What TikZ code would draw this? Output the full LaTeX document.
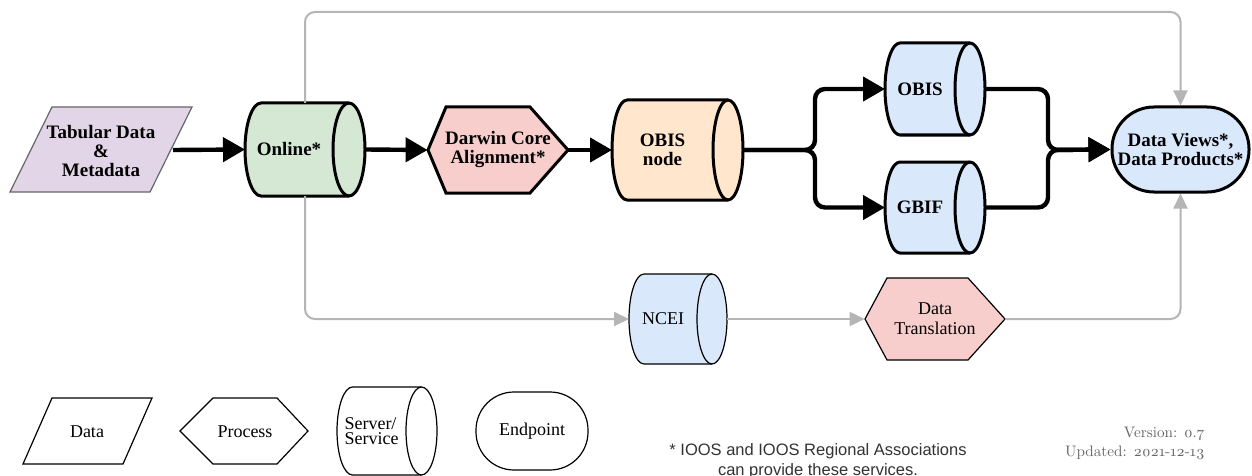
\documentclass[tikz,border=0pt]{standalone}
\usepackage{fontspec}
\setmainfont{Liberation Serif}
\newfontfamily\sansfn{Liberation Sans}
\newfontfamily\verfont[Numbers=OldStyle]{lmroman10-regular.otf}
\usetikzlibrary{arrows.meta}
\definecolor{cgreen}{HTML}{D5E8D4}
\definecolor{cblue}{HTML}{DAE8FC}
\definecolor{cpink}{HTML}{F8CECC}
\definecolor{corange}{HTML}{FFE6CC}
\definecolor{clav}{HTML}{E1D5E7}
\definecolor{lgray}{HTML}{B5B5B5}
\definecolor{fgray}{HTML}{333333}
\definecolor{vgray}{HTML}{666666}
\newcommand{\cyl}[9]{%
  \pgfmathsetmacro{\cylhh}{(#5-#4)*0.25}%
  \pgfmathsetmacro{\cylrx}{#6*0.5}%
  \node[inner sep=0pt, outer sep=0pt, minimum width={(#3-#2)*0.5pt}, minimum height={(#5-#4)*0.5pt}] (#1) at ({(#2+#3)/2},{(#4+#5)/2}) {};
  \draw[#7] ([xshift=\cylrx pt]#1.north west) -- ([xshift=-\cylrx pt]#1.north east)
    arc[start angle=90, end angle=-90, x radius=\cylrx pt, y radius=\cylhh pt]
    -- ([xshift=\cylrx pt]#1.south west)
    arc[start angle=270, end angle=90, x radius=\cylrx pt, y radius=\cylhh pt] -- cycle;
  \draw[#7, fill=none] ([xshift=-\cylrx pt]#1.north east)
    arc[start angle=90, end angle=270, x radius=\cylrx pt, y radius=\cylhh pt];
  \node[#8] (#1-t) at ({(#2+#3)/2-#6},{(#4+#5)/2}) {#9};
}
\tikzset{
  bigline/.style={line width=2.2pt, -{Triangle[length=11pt,width=12pt]}, rounded corners=5pt},
  grayline/.style={draw=lgray, line width=1pt, -{Triangle[length=7.5pt,width=7pt]}, rounded corners=5pt},
  thickb/.style={draw=black, line width=1.5pt},
  thinb/.style={draw=black, line width=0.6pt},
  maintxt/.style={font=\bfseries\fontsize{9.5}{9.5}\selectfont, align=center, inner sep=0pt},
  midtxt/.style={font=\fontsize{9}{10}\selectfont, align=center, inner sep=0pt},
  legtxt/.style={font=\fontsize{9}{9}\selectfont, align=center, inner sep=0pt},
  bbox/.style={inner sep=0pt, outer sep=0pt}
}
\begin{document}
\begin{tikzpicture}[x=0.5pt,y=-0.5pt]
\useasboundingbox (0,0) rectangle (1252,476);
\fill[white] (0,0) rectangle (1252,476);

% Tabular data (parallelogram)
\draw[fill=clav, draw=black!60, line width=0.6pt] (52,107) -- (192,107) -- (150,192) -- (10,192) -- cycle;
\node[maintxt] (tab) at (101,151) {Tabular Data\\\&\\Metadata};
\coordinate (tabE) at (173,150);

% Online
\cyl{online}{245}{365}{103}{196}{16}{thickb, fill=cgreen}{maintxt}{Online*}

% Darwin Core hexagon
\draw[thickb, fill=cpink] (428,150) -- (446,107) -- (530,107) -- (568,150) -- (530,193) -- (446,193) -- cycle;
\node[maintxt, minimum width=70pt, minimum height=43pt] (dca) at (498,150) {Darwin Core\\Alignment*};

% OBIS node
\cyl{obisn}{612}{743}{100}{200}{15}{thickb, fill=corange}{maintxt}{OBIS\\node}

% OBIS and GBIF
\cyl{obis}{885}{985}{43}{135}{15}{thickb, fill=cblue}{maintxt}{OBIS}
\cyl{gbif}{885}{985}{162}{253}{15}{thickb, fill=cblue}{maintxt}{GBIF}

% Data views endpoint
\node[thickb, fill=cblue, rounded corners=21pt, minimum width=68.5pt, minimum height=42.5pt, inner sep=0pt, maintxt] (dv) at (1180.5,149.5) {Data Views*,\\Data Products*};

% NCEI
\cyl{ncei}{629}{727}{274}{364}{15}{thinb, fill=cblue}{midtxt}{NCEI}

% Data translation hexagon
\draw[thinb, fill=cpink] (865,319) -- (887,278) -- (968,278) -- (1005,319) -- (968,360) -- (887,360) -- cycle;
\node[midtxt, minimum width=70pt, minimum height=41pt] (dtr) at (935,319) {Data\\Translation};

% connectors (black)
\coordinate (split) at (815,150);
\coordinate (merge) at (1048,150);
\draw[bigline] (tabE) -- (online.west);
\draw[bigline] (online.east) -- (dca.west);
\draw[bigline] (dca.east) -- (obisn.west);
\draw[bigline] (obisn.east) -- (split) |- (obis.west);
\draw[bigline] (obisn.east) -- (split) |- (gbif.west);
\draw[bigline] (obis.east) -| (merge) -- (dv.west);
\draw[bigline] (gbif.east) -| (merge) -- (dv.west);

% connectors (gray)
\coordinate (topc) at (700,12);
\draw[grayline] (online.north) |- (topc) -| (dv.north);
\draw[grayline] (online.south) |- (ncei.west);
\draw[grayline] (ncei.east) -- (dtr.west);
\draw[grayline] (dtr.east) -| (dv.south);

% legend
\draw[thinb] (52,398) -- (152,398) -- (123,464) -- (23,464) -- cycle;
\node[legtxt] (lgdata) at (87,432) {Data};
\draw[thinb] (180,431) -- (213,398) -- (277,398) -- (308,431) -- (277,464) -- (213,464) -- cycle;
\node[legtxt] (lgproc) at (245,432) {Process};
\cyl{lgserv}{337}{437}{387}{475}{15.5}{thinb, fill=white}{font=\fontsize{9}{7.5}\selectfont, align=left, inner sep=0pt}{Server/\\Service}
\node[thinb, rounded corners=19pt, minimum width=56pt, minimum height=39pt, inner sep=0pt, legtxt] (lgend) at (532,431) {Endpoint};

% notes
\node[font=\sansfn\fontsize{8.25}{10}\selectfont, text=fgray, align=center, inner sep=0pt] (note) at (818,461) {* IOOS and IOOS Regional Associations\\can provide these services.};
\node[font=\verfont\fontsize{7.6}{9.5}\selectfont, text=vgray, align=right, anchor=east, inner sep=0pt] (ver) at (1205,443) {Version: 0.7\\Updated: 2021-12-13};
\end{tikzpicture}
\end{document}
